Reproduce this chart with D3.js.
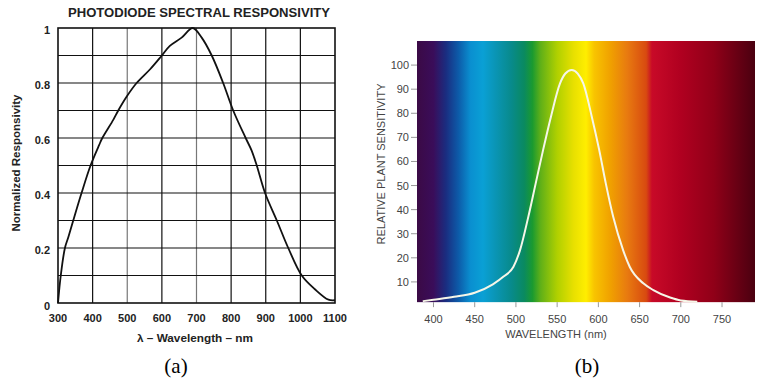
<!DOCTYPE html>
<html>
<head>
<meta charset="utf-8">
<script src="https://cdn.jsdelivr.net/npm/d3@7"></script>
<style>
  body { margin: 0; background: #fff; }
  svg { display: block; }
</style>
</head>
<body>
<div id="chart"></div>
<script>
// (a) photodiode responsivity
const diodeWl = [300, 308, 320, 330, 344, 368, 394, 419, 428, 460, 474, 498, 527, 566, 600, 623, 657, 689, 715, 744, 777, 806, 842, 859, 874, 898, 932, 965, 1004, 1042, 1081, 1100];
const diodeResp = [0, 0.1, 0.2, 0.24, 0.3, 0.4, 0.5, 0.575, 0.6, 0.667, 0.7, 0.75, 0.8, 0.85, 0.9, 0.935, 0.965, 1.0, 0.965, 0.9, 0.8, 0.7, 0.6, 0.555, 0.5, 0.4, 0.3, 0.2, 0.1, 0.05, 0.012, 0.01];
const diodeXTicks = [300, 400, 500, 600, 700, 800, 900, 1000, 1100];
const diodeYTicks = [0, 0.2, 0.4, 0.6, 0.8, 1];

// (b) plant sensitivity
const plantWl = [387, 400, 425, 450, 472, 485, 497, 505, 515, 524, 533, 542.5, 553.5, 560, 567.6, 575, 581.7, 592, 601, 609, 618, 630, 638, 654.5, 666.7, 687, 700, 720];
const plantSens = [2, 2.6, 3.8, 5.5, 9, 12.2, 16.3, 23.2, 37, 50.9, 64.8, 78.6, 92.4, 96.5, 98, 96.5, 92.4, 78.6, 64.8, 50.9, 37, 23.2, 16.3, 9.4, 6.6, 3.5, 2.3, 1.8];
const plantXTicks = [400, 450, 500, 550, 600, 650, 700, 750];
const plantYTicks = [10, 20, 30, 40, 50, 60, 70, 80, 90, 100];
const spectrumNm = [380, 400, 415, 430, 445, 460, 475, 495, 510, 520, 530, 550, 570, 585, 595, 615, 635, 658, 665, 700, 740, 790];
const spectrumColors = ["#3b0a45", "#3a0d5a", "#1a2d80", "#0d5aa8", "#0a8fd0", "#0aa0d5", "#0a95b5", "#088a8a", "#0a8a60", "#1a9a30", "#60b018", "#b0d000", "#e8e000", "#ffee00", "#f8c400", "#f0a000", "#e87a10", "#d84a10", "#c80a28", "#b00020", "#900018", "#4a0010"];

const W = 757, H = 381;
const svg = d3.select("#chart").append("svg").attr("width", W).attr("height", H);
const sans = "'Liberation Sans', Arial, sans-serif";
const serif = "'Liberation Serif', 'Times New Roman', serif";

// ---------- panel (a) ----------
const xa = d3.scaleLinear().domain([300, 1100]).range([58, 335]);
const ya = d3.scaleLinear().domain([0, 1]).range([303, 28]);
const ga = svg.append("g");

const gridX = d3.range(400, 1100, 100);
const gridY = d3.range(1, 10).map(d => d / 10);

ga.selectAll("line.vx").data(gridX).join("line")
  .attr("x1", d => xa(d)).attr("x2", d => xa(d))
  .attr("y1", ya(0)).attr("y2", ya(1))
  .attr("stroke", d => (d === 500 || d === 700) ? "#777" : "#111")
  .attr("stroke-width", 1.2);

ga.selectAll("line.hy").data(gridY).join("line")
  .attr("x1", xa(300)).attr("x2", xa(1100))
  .attr("y1", d => ya(d)).attr("y2", d => ya(d))
  .attr("stroke", "#111").attr("stroke-width", 1.2);

ga.append("rect")
  .attr("x", xa(300)).attr("y", ya(1))
  .attr("width", xa(1100) - xa(300)).attr("height", ya(0) - ya(1))
  .attr("fill", "none").attr("stroke", "#111").attr("stroke-width", 1.6);

ga.append("path")
  .datum(diodeWl.map((w, i) => [w, diodeResp[i]]))
  .attr("fill", "none").attr("stroke", "#111").attr("stroke-width", 1.8)
  .attr("d", d3.line().x(d => xa(d[0])).y(d => ya(d[1])).curve(d3.curveCatmullRom));

ga.selectAll("text.xt").data(diodeXTicks).join("text")
  .attr("x", d => xa(d)).attr("y", 321.5)
  .attr("text-anchor", "middle")
  .attr("font-family", sans).attr("font-size", 11).attr("font-weight", "bold").attr("fill", "#222")
  .text(d => d);

ga.selectAll("text.yt").data(diodeYTicks).join("text")
  .attr("x", 50).attr("y", d => ya(d) + (d === 0 ? 7 : 6))
  .attr("text-anchor", "end")
  .attr("font-family", sans).attr("font-size", 11).attr("font-weight", "bold").attr("fill", "#222")
  .text(d => d);

ga.append("text")
  .attr("x", 199).attr("y", 17).attr("text-anchor", "middle")
  .attr("font-family", sans).attr("font-size", 13).attr("font-weight", "bold").attr("fill", "#222")
  .attr("textLength", 262).attr("lengthAdjust", "spacingAndGlyphs")
  .text("PHOTODIODE SPECTRAL RESPONSIVITY");

ga.append("text")
  .attr("x", 195).attr("y", 342).attr("text-anchor", "middle")
  .attr("font-family", sans).attr("font-size", 11).attr("font-weight", "bold").attr("fill", "#222")
  .attr("textLength", 116).attr("lengthAdjust", "spacingAndGlyphs")
  .text("λ – Wavelength – nm");

ga.append("text")
  .attr("transform", "translate(20,163) rotate(-90)").attr("text-anchor", "middle")
  .attr("font-family", sans).attr("font-size", 11).attr("font-weight", "bold").attr("fill", "#222")
  .attr("textLength", 137).attr("lengthAdjust", "spacingAndGlyphs")
  .text("Normalized Responsivity");

ga.append("text")
  .attr("x", 176).attr("y", 373).attr("text-anchor", "middle")
  .attr("font-family", serif).attr("font-size", 21).attr("fill", "#000")
  .text("(a)");

// ---------- panel (b) ----------
const xb = d3.scaleLinear().domain([380, 790]).range([417, 755]);
const yb = d3.scaleLinear().domain([0, 110]).range([306, 41]);
const gb = svg.append("g");

const grad = svg.append("defs").append("linearGradient")
  .attr("id", "spectrum").attr("gradientUnits", "userSpaceOnUse")
  .attr("x1", xb(380)).attr("x2", xb(790)).attr("y1", 0).attr("y2", 0);
grad.selectAll("stop").data(spectrumNm).join("stop")
  .attr("offset", d => (d - 380) / (790 - 380))
  .attr("stop-color", (d, i) => spectrumColors[i]);

gb.append("rect")
  .attr("x", xb(380)).attr("y", yb(110))
  .attr("width", xb(790) - xb(380)).attr("height", yb(1.6) - yb(110))
  .attr("fill", "url(#spectrum)");

gb.append("path")
  .datum(plantWl.map((w, i) => [w, plantSens[i]]))
  .attr("fill", "none").attr("stroke", "#f6f6e8").attr("stroke-width", 2)
  .attr("d", d3.line().x(d => xb(d[0])).y(d => yb(d[1])).curve(d3.curveMonotoneX));

const grey = "#444";
gb.selectAll("line.yt").data(plantYTicks).join("line")
  .attr("x1", 411).attr("x2", xb(380))
  .attr("y1", d => yb(d)).attr("y2", d => yb(d))
  .attr("stroke", "#999").attr("stroke-width", 1);

gb.selectAll("text.yt").data(plantYTicks).join("text")
  .attr("x", 409).attr("y", d => yb(d) + 4)
  .attr("text-anchor", "end")
  .attr("font-family", sans).attr("font-size", 11).attr("fill", grey)
  .text(d => d);

gb.selectAll("line.xt").data(plantXTicks).join("line")
  .attr("x1", d => xb(d)).attr("x2", d => xb(d))
  .attr("y1", yb(1.6)).attr("y2", yb(1.6) + 5)
  .attr("stroke", "#999").attr("stroke-width", 1);

gb.selectAll("text.xt").data(plantXTicks).join("text")
  .attr("x", d => xb(d)).attr("y", 322.5)
  .attr("text-anchor", "middle")
  .attr("font-family", sans).attr("font-size", 11).attr("fill", grey)
  .text(d => d);

gb.append("text")
  .attr("x", 556).attr("y", 338).attr("text-anchor", "middle")
  .attr("font-family", sans).attr("font-size", 11).attr("fill", grey)
  .text("WAVELENGTH (nm)");

gb.append("text")
  .attr("transform", "translate(385,164) rotate(-90)").attr("text-anchor", "middle")
  .attr("font-family", sans).attr("font-size", 11).attr("fill", grey)
  .text("RELATIVE PLANT SENSITIVITY");

gb.append("text")
  .attr("x", 587).attr("y", 373).attr("text-anchor", "middle")
  .attr("font-family", serif).attr("font-size", 21).attr("fill", "#000")
  .text("(b)");
</script>
</body>
</html>
